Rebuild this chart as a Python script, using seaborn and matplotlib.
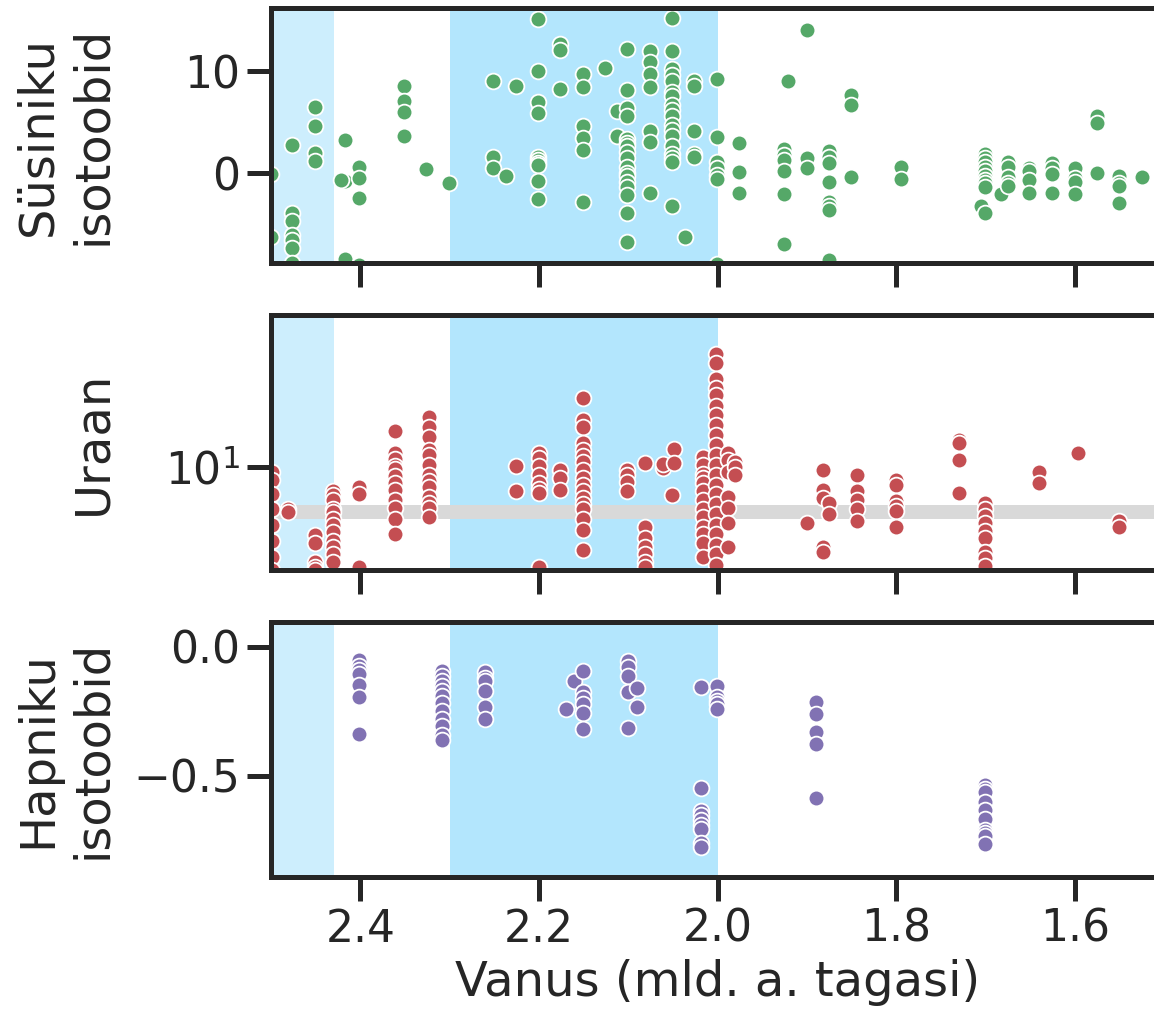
import numpy as np
import pandas as pd
import matplotlib
matplotlib.use("Agg")
import matplotlib.pyplot as plt
import matplotlib.ticker as mticker
import seaborn as sns

# ---------------- data ----------------
# Carbon isotopes (age Ga, d13C)
carbon_age = (
    [2.50, 2.50]
    + [2.476] * 7
    + [2.451] * 4
    + [2.417] * 3 + [2.422]
    + [2.401] * 4
    + [2.351] * 4
    + [2.326, 2.301]
    + [2.251] * 3
    + [2.237, 2.226]
    + [2.201] * 10
    + [2.176] * 3
    + [2.151] * 6
    + [2.126]
    + [2.112] * 2
    + [2.101] * 17
    + [2.076] * 7
    + [2.051] * 18
    + [2.036]
    + [2.026] * 5
    + [2.001] * 7
    + [1.976] * 3
    + [1.926] * 6
    + [1.921]
    + [1.900] * 3
    + [1.875] * 8
    + [1.850] * 3
    + [1.795] * 2
    + [1.700] * 9 + [1.705, 1.700]
    + [1.683]
    + [1.675] * 5
    + [1.651] * 4
    + [1.625] * 4
    + [1.600] * 4
    + [1.575] * 3
    + [1.550] * 4
    + [1.525]
)
carbon_val = (
    [-0.1, -6.3]
    + [2.8, -3.9, -4.7, -6.1, -6.6, -7.3, -8.8]
    + [6.5, 4.6, 2.0, 1.2]
    + [3.3, -0.8, -8.4, -0.7]
    + [0.6, -0.5, -2.4, -9.0]
    + [8.6, 7.1, 6.0, 3.7]
    + [0.4, -1.0]
    + [9.1, 1.6, 0.5]
    + [-0.3, 8.6]
    + [15.1, 10.0, 7.0, 5.9, 1.6, 1.3, 1.0, 0.8, -0.8, -2.5]
    + [12.7, 12.1, 8.3]
    + [9.7, 8.5, 4.6, 3.5, 2.3, -2.8]
    + [10.3]
    + [6.1, 3.7]
    + [12.2, 8.2, 6.4, 5.6, 3.4, 3.0, 2.7, 2.1, 1.5, 0.6, 0.0, -0.3, -0.9, -1.4, -2.1, -3.9, -6.8]
    + [12.0, 10.9, 9.7, 8.5, 4.1, 3.1, -1.9]
    + [15.2, 12.0, 10.2, 9.6, 9.1, 8.0, 7.6, 6.7, 6.2, 5.6, 4.7, 4.2, 3.7, 2.7, 1.9, 1.5, 1.1, -3.2]
    + [-6.3]
    + [9.1, 8.6, 4.1, 1.9, 1.6]
    + [9.3, 3.6, 1.1, 0.5, -0.2, -0.6, -8.9]
    + [3.0, 0.1, -1.9]
    + [2.4, 1.8, 1.3, 0.2, -2.0, -7.0]
    + [9.1]
    + [14.1, 1.5, 0.5]
    + [2.2, 1.6, 1.0, -0.9, -2.8, -3.2, -3.6, -8.5]
    + [7.7, 6.7, -0.4]
    + [0.6, -0.6]
    + [1.9, 1.5, 1.1, 0.6, 0.2, -0.3, -0.7, -1.0, -1.4, -3.2, -3.9]
    + [-2.0]
    + [1.1, 0.6, -0.4, -1.0, -1.3]
    + [0.5, 0.2, -0.7, -1.9]
    + [1.0, 0.5, -0.1, -1.9]
    + [0.5, -0.5, -0.9, -2.0]
    + [5.6, 4.9, 0.0]
    + [-0.3, -1.0, -1.3, -2.9]
    + [-0.4]
)

# Uranium (age Ga, ppm)
uran_age = (
    [2.499] * 8
    + [2.481] * 2
    + [2.451] * 5
    + [2.431] * 12
    + [2.401] * 3
    + [2.361] * 12
    + [2.323] * 13
    + [2.226] * 2
    + [2.200] * 8
    + [2.176] * 3
    + [2.151] * 17
    + [2.101] * 4
    + [2.081] * 7
    + [2.061] * 2
    + [2.049] * 2 + [2.051]
    + [2.016] * 13
    + [2.002] * 22
    + [1.988] * 7
    + [1.980] * 3
    + [1.900]
    + [1.882] * 5
    + [1.875] * 2
    + [1.844] * 5
    + [1.800] * 6
    + [1.730] * 4
    + [1.700] * 9
    + [1.640] * 2
    + [1.596]
    + [1.550] * 2
)
uran_val = (
    [9.5, 8.9, 7.8, 6.8, 5.9, 5.1, 4.4, 3.9]
    + [6.8, 6.6]
    + [5.35, 5.0, 4.2, 4.0, 3.9]
    + [8.0, 7.7, 7.4, 6.8, 6.6, 6.2, 5.9, 5.5, 5.1, 4.8, 4.5, 4.2]
    + [8.3, 7.8, 4.0]
    + [13.9, 11.4, 10.7, 10.1, 9.8, 9.2, 8.6, 8.1, 7.4, 6.9, 6.2, 5.4]
    + [15.7, 14.4, 13.1, 11.7, 11.1, 10.2, 9.3, 8.8, 8.3, 7.6, 7.2, 6.9, 6.3]
    + [10.1, 8.0]
    + [11.4, 10.8, 10.1, 9.3, 8.6, 8.2, 7.9, 4.0]
    + [9.7, 9.0, 8.1]
    + [18.7, 15.3, 14.4, 12.4, 11.7, 11.0, 10.5, 9.7, 9.0, 8.5, 8.0, 7.5, 7.1, 6.8, 6.2, 5.6, 4.7]
    + [9.7, 9.3, 8.7, 8.0]
    + [10.4, 5.75, 5.2, 4.8, 4.5, 4.2, 4.0]
    + [9.9, 10.3]
    + [11.8, 10.4, 7.7]
    + [10.9, 10.2, 9.4, 9.0, 8.6, 8.0, 7.4, 6.8, 6.3, 5.75, 5.4, 5.0, 4.4]
    + [28.1, 25.9, 22.4, 20.5, 19.2, 17.5, 16.0, 14.6, 13.4, 12.2, 11.1, 10.2,
       9.3, 8.5, 7.8, 7.1, 6.5, 5.9, 5.4, 4.9, 4.5, 4.1]
    + [11.4, 10.6, 9.5, 7.6, 6.9, 6.0, 4.8]
    + [10.5, 10.0, 9.3]
    + [6.0]
    + [9.7, 8.1, 7.5, 4.8, 4.6]
    + [7.2, 6.5]
    + [9.3, 8.0, 7.4, 6.8, 6.1]
    + [8.9, 8.5, 7.3, 7.0, 6.7, 5.75]
    + [12.8, 12.4, 10.6, 7.9]
    + [7.2, 6.8, 6.4, 6.0, 5.55, 5.2, 4.6, 4.35, 4.05]
    + [9.5, 8.6]
    + [11.4]
    + [6.1, 5.8]
)

# Oxygen isotopes (age Ga, value)
oxy_age = (
    [2.401] * 7
    + [2.309] * 12
    + [2.260] * 6
    + [2.170, 2.161]
    + [2.151] * 6
    + [2.100] * 5
    + [2.090] * 2
    + [2.019] * 9
    + [2.001] * 5
    + [1.890] * 5
    + [1.700] * 10
)
oxy_val = (
    [-0.053, -0.073, -0.09, -0.105, -0.148, -0.193, -0.337]
    + [-0.093, -0.112, -0.132, -0.151, -0.171, -0.190, -0.216, -0.249, -0.281, -0.307, -0.340, -0.359]
    + [-0.096, -0.12, -0.132, -0.171, -0.232, -0.281]
    + [-0.240, -0.134]
    + [-0.093, -0.177, -0.2, -0.223, -0.258, -0.320]
    + [-0.056, -0.08, -0.112, -0.177, -0.316]
    + [-0.161, -0.232]
    + [-0.157, -0.546, -0.637, -0.65, -0.672, -0.69, -0.704, -0.76, -0.776]
    + [-0.151, -0.193, -0.21, -0.223, -0.242]
    + [-0.214, -0.262, -0.331, -0.375, -0.587]
    + [-0.535, -0.55, -0.561, -0.600, -0.633, -0.665, -0.711, -0.72, -0.734, -0.763]
)

# shaded periods (Ga)
shade_start = [2.50, 2.30]
shade_end = [2.43, 2.00]
shade_colors = ["#cdeefd", "#b3e6fd"]

uran_ref = 6.6  # reference level (grey band)

x_ticks = [2.4, 2.2, 2.0, 1.8, 1.6]
carbon_ticks = [0, 10]
oxy_ticks = [-0.5, 0.0]
uran_ticks = [10]

xlabel = "Vanus (mld. a. tagasi)"
ylabels = ["Süsiniku\nisotoobid", "Uraan", "Hapniku\nisotoobid"]

# ---------------- plot ----------------
sns.set_theme(style="ticks", context="poster")

fig = plt.figure(figsize=(1154 / 144, 1010 / 144), dpi=144)
W, H = 1154, 1010
left = 271 / W
width = (1164 - 271) / W
ax1 = fig.add_axes([left, (H - 263.3) / H, width, 255 / H])
ax2 = fig.add_axes([left, (H - 570) / H, width, 255 / H], sharex=ax1)
ax3 = fig.add_axes([left, (H - 876.7) / H, width, 255 / H], sharex=ax1)
axes = [ax1, ax2, ax3]

dfs = [
    pd.DataFrame({"age": carbon_age, "val": carbon_val}),
    pd.DataFrame({"age": uran_age, "val": uran_val}),
    pd.DataFrame({"age": oxy_age, "val": oxy_val}),
]
colors = ["#55a868", "#c44e52", "#8172b3"]

for ax in axes:
    for s0, s1, c in zip(shade_start, shade_end, shade_colors):
        ax.axvspan(s0, s1, color=c, lw=0, zorder=0)

ax2.axhline(uran_ref, color="#d9d9d9", lw=7, zorder=0.5)

for ax, df, c in zip(axes, dfs, colors):
    sns.scatterplot(data=df, x="age", y="val", ax=ax, color=c, s=62,
                    edgecolor="white", linewidth=0.9, zorder=3, legend=False)

ax1.set_ylim(-8.85, 16.2)
ax1.set_yticks(carbon_ticks)

ax2.set_yscale("log")
ax2.set_ylim(3.9, 40)
ax2.yaxis.set_major_locator(mticker.FixedLocator(uran_ticks))
ax2.yaxis.set_major_formatter(mticker.LogFormatterSciNotation())
ax2.yaxis.set_minor_locator(mticker.NullLocator())

ax3.set_ylim(-0.89, 0.097)
ax3.set_yticks(oxy_ticks)

ax1.set_xlim(2.5, 1.5)
ax1.set_xticks(x_ticks)
for ax in (ax1, ax2):
    ax.tick_params(labelbottom=False)
    ax.set_xlabel("")
ax3.set_xlabel(xlabel)

label_x = (116 - 271) / (1164 - 271)
for ax, lab in zip(axes, ylabels):
    ax.set_ylabel(lab)
    ax.yaxis.set_label_coords(label_x, 0.5)
    for sp in ax.spines.values():
        sp.set_visible(True)
        sp.set_zorder(5)

fig.savefig("out.png", dpi=144)
